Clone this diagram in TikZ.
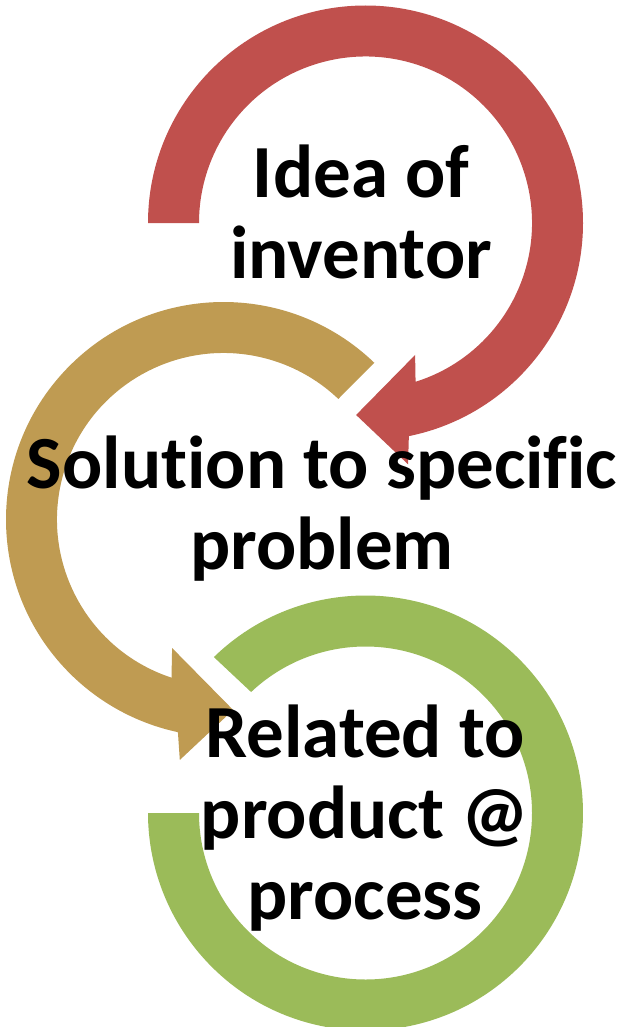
\documentclass[tikz,border=0pt]{standalone}
\usepackage{fontspec}
\setmainfont[Ligatures={NoCommon}]{Carlito}
\definecolor{redA}{HTML}{C0504D}
\definecolor{goldA}{HTML}{BF9B52}
\definecolor{greenA}{HTML}{9BBB59}
\begin{document}
\begin{tikzpicture}[x=1pt,y=1pt,
  lbl/.style={font=\fontsize{75}{81}\selectfont\bfseries, align=center, text=black, inner sep=0pt}]
\useasboundingbox (0,0) rectangle (621,-1027);
\coordinate (cR) at (365.5,-223);
\coordinate (cG) at (223.5,-519.5);
\coordinate (cN) at (365.5,-813);
% red arrow (clockwise)
\fill[redA] ([shift={(cR)}]180:217.5) arc[start angle=180,end angle=-78.5,radius=217.5]
  -- ([shift={(cR)}]-80:245) -- ([shift={(cR)}]-92.8:192.2) -- ([shift={(cR)}]-69.4:141)
  -- ([shift={(cR)}]-72.5:166.5) arc[start angle=-72.5,end angle=180,radius=166.5] -- cycle;
% gold arrow (counter-clockwise)
\fill[goldA] ([shift={(cG)}]46.1:217.5) arc[start angle=46.1,end angle=257.9,radius=217.5]
  -- ([shift={(cG)}]259.7:244.4) -- ([shift={(cG)}]272.9:190.7) -- ([shift={(cG)}]248.2:138.4)
  -- ([shift={(cG)}]251.8:166.5) arc[start angle=251.8,end angle=46.4,radius=166.5] -- cycle;
% green arc
\fill[greenA] ([shift={(cN)}]134.2:217.5) arc[start angle=134.2,end angle=-180,radius=217.5]
  -- ([shift={(cN)}]180:166.5) arc[start angle=-180,end angle=133.4,radius=166.5] -- cycle;
% texts
\node[lbl] (t1) at (361,-212) {Idea of\\inventor};
\node[lbl] (t2) at (322,-509) {Solution to specific\\problem};
\node[lbl] (t3) at (365,-818) {Related to\\product @\\process};
\end{tikzpicture}
\end{document}
